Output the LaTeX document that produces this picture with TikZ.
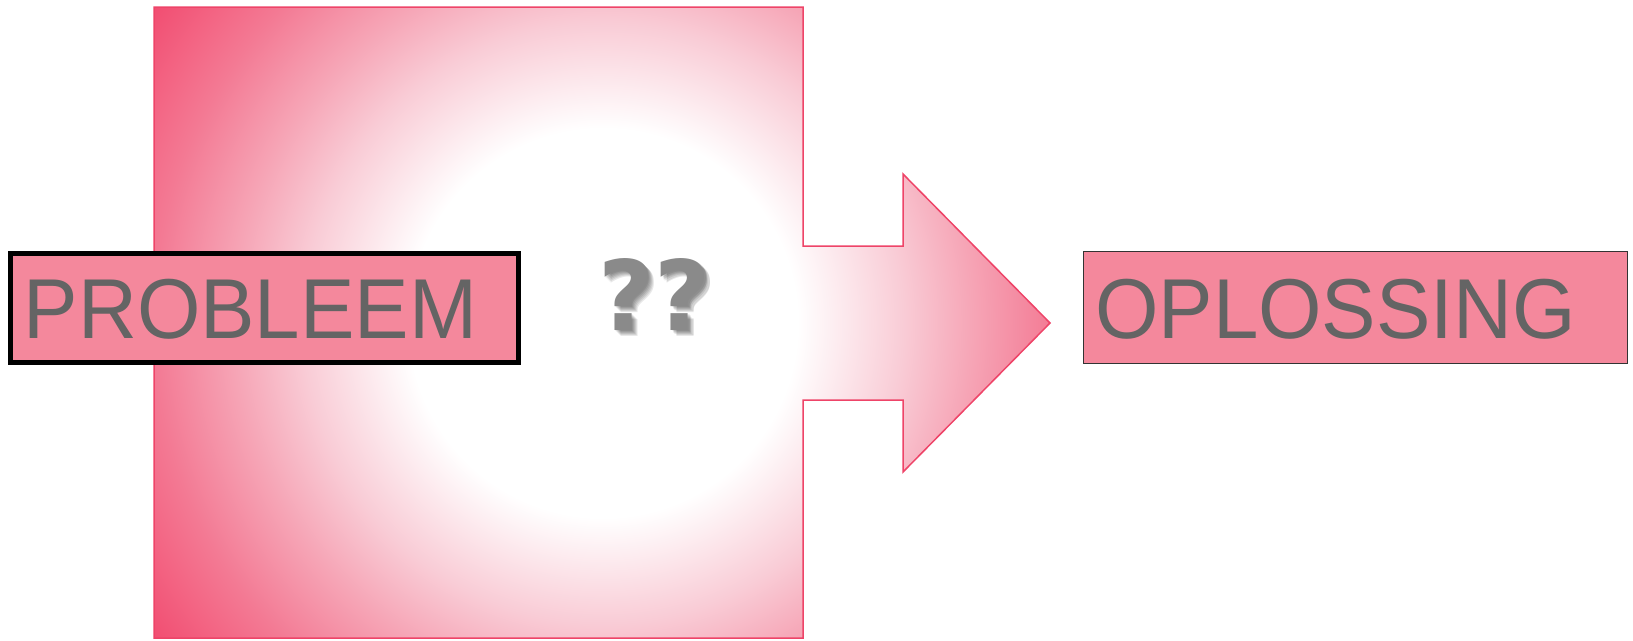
\documentclass[tikz,border=0pt]{standalone}
\usepackage{fontspec}
\setmainfont{Liberation Sans}
\newfontfamily\qfont{DejaVu Sans}
\definecolor{pinkedge}{HTML}{EE4468}
\definecolor{boxfill}{HTML}{F4889C}
\definecolor{txtgray}{HTML}{646464}
\definecolor{qgray}{HTML}{8A8A8A}
\definecolor{pkA}{HTML}{F9CCD6}
\definecolor{pkB}{HTML}{F6A5B6}
\definecolor{pkC}{HTML}{F37A94}
\definecolor{pkD}{HTML}{F2446A}
\pgfdeclareradialshading{bigrad}{\pgfpoint{0bp}{0bp}}{color(0bp)=(white); color(8.1bp)=(white); color(12.5bp)=(pkA); color(15.4bp)=(pkB); color(18.75bp)=(pkC); color(23.75bp)=(pkD); color(50bp)=(pkD)}
\tikzset{
  bigshape/.style={draw=pinkedge, line width=1.5pt,
    path picture={\shade[shading=bigrad] (3,-277) rectangle (1203,923);}},
  probbox/.style={draw=black, line width=5pt, fill=boxfill, inner sep=0pt},
  solbox/.style={draw=black!80, line width=1pt, fill=boxfill, inner sep=0pt},
  lbl/.style={text=txtgray, inner sep=0pt, font=\fontsize{85}{85}\selectfont},
  qmark/.style={inner sep=0pt, font=\qfont\bfseries\fontsize{97}{97}\selectfont}
}
\begin{document}
\begin{tikzpicture}[x=1pt,y=-1pt]
\useasboundingbox (0,0) rectangle (1633,640);
% square with arrow
\path[bigshape] (154,7) -- (803,7) -- (803,246) -- (903,246) -- (903,174)
  -- (1050,323) -- (903,472) -- (903,400) -- (803,400) -- (803,638)
  -- (154,638) -- cycle;
% PROBLEEM
\node[probbox, minimum width=508pt, minimum height=109pt] (prob) at (264.5,308) {};
\node[lbl, anchor=base west] (probtxt) at (23.5,338) {\scalebox{0.96}[1]{PROBLEEM}};
% OPLOSSING
\node[solbox, minimum width=544pt, minimum height=112pt] (sol) at (1355,307) {};
\node[lbl, anchor=base west] (soltxt) at (1095,338) {\scalebox{0.96}[1]{OPLOSSING}};
% question marks with soft shadow
\foreach \d in {1,2,3,4,5,6}{
  \node[qmark, anchor=base, text=black, opacity=0.09] at (655+\d,330+\d) {??};
}
\node[qmark, anchor=base, text=qgray] (q) at (655,330) {??};
\end{tikzpicture}
\end{document}
